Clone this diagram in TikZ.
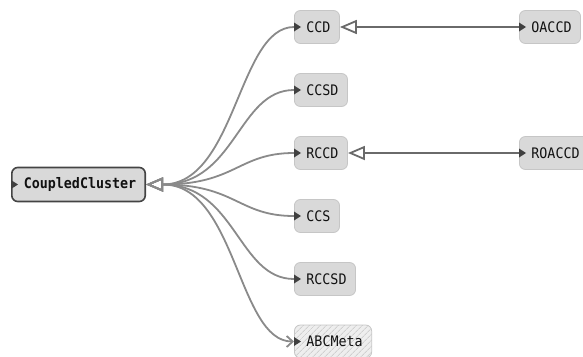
\documentclass[tikz,border=0pt]{standalone}
\usepackage{fontspec}
\setmonofont[FakeStretch=0.92]{DejaVu Sans Mono}
\usetikzlibrary{arrows.meta,patterns.meta,calc}
\definecolor{nodefill}{HTML}{D9D9D9}
\definecolor{nodeline}{HTML}{C6C6C6}
\definecolor{ccline}{HTML}{444444}
\definecolor{edgec}{HTML}{8A8A8A}
\definecolor{edged}{HTML}{6A6A6A}
\definecolor{markc}{HTML}{404040}
\definecolor{txt}{HTML}{111111}
\definecolor{hatchbg}{HTML}{EEEEEE}
\definecolor{hatchln}{HTML}{D0D0D0}
\begin{document}
\begin{tikzpicture}[x=1pt,y=-1pt,
  cls/.style={draw=nodeline, line width=0.8pt, fill=nodefill, rounded corners=6pt,
    minimum height=33pt, inner xsep=9pt, inner ysep=0pt, anchor=west, text=txt,
    font=\ttfamily\fontsize{14.5}{17}\selectfont, execute at begin node={\kern3pt}},
  main/.style={cls, draw=ccline, line width=1.6pt, minimum height=34pt, font=\ttfamily\bfseries\fontsize{14.5}{17}\selectfont},
  meta/.style={cls, fill=none, preaction={fill=hatchbg}, pattern={Lines[angle=45,distance=4pt,line width=0.9pt]}, pattern color=hatchln},
  inh/.style={draw=edgec, line width=1.8pt, -{Triangle[open,length=17pt,width=14pt]}},
  dep/.style={draw=edgec, line width=1.8pt, -{Straight Barb[length=6pt,width=11pt]}}
]
\useasboundingbox (0,0) rectangle (583,356);
\node[main] (cc) at (11,184.5) {CoupledCluster};
\node[cls] (ccd) at (294,27) {CCD};
\node[cls] (ccsd) at (294,90) {CCSD};
\node[cls] (rccd) at (294,153) {RCCD};
\node[cls] (ccs) at (294,216) {CCS};
\node[cls] (rccsd) at (294,279) {RCCSD};
\node[meta] (abc) at (294,341.5) {ABCMeta};
\node[cls] (oaccd) at (519,27) {OACCD};
\node[cls] (roaccd) at (519,153) {ROACCD};
\coordinate (fan) at ($(cc.east)+(17pt,0)$);

\draw[inh, draw=edged] (oaccd.west) -- (ccd.east);
\draw[inh, draw=edged] (roaccd.west) -- (rccd.east);
\draw[inh] (ccd.west) .. controls +(-56,0) and +(90,0) .. (cc.east);
\draw[inh] (ccsd.west) .. controls +(-56,0) and +(90,0) .. (cc.east);
\draw[inh] (rccd.west) .. controls +(-56,0) and +(90,0) .. (cc.east);
\draw[inh] (ccs.west) .. controls +(-56,0) and +(90,0) .. (cc.east);
\draw[inh] (rccsd.west) .. controls +(-56,0) and +(90,0) .. (cc.east);
\draw[dep] (fan) .. controls +(73,0) and +(-56,0) .. (abc.west);

\foreach \n in {cc,ccd,ccsd,rccd,ccs,rccsd,abc,oaccd,roaccd}
  \fill[markc] ($(\n.west)+(0,4.5pt)$) -- ++(7pt,-4.5pt) -- ++(-7pt,-4.5pt) -- cycle;
\end{tikzpicture}
\end{document}
